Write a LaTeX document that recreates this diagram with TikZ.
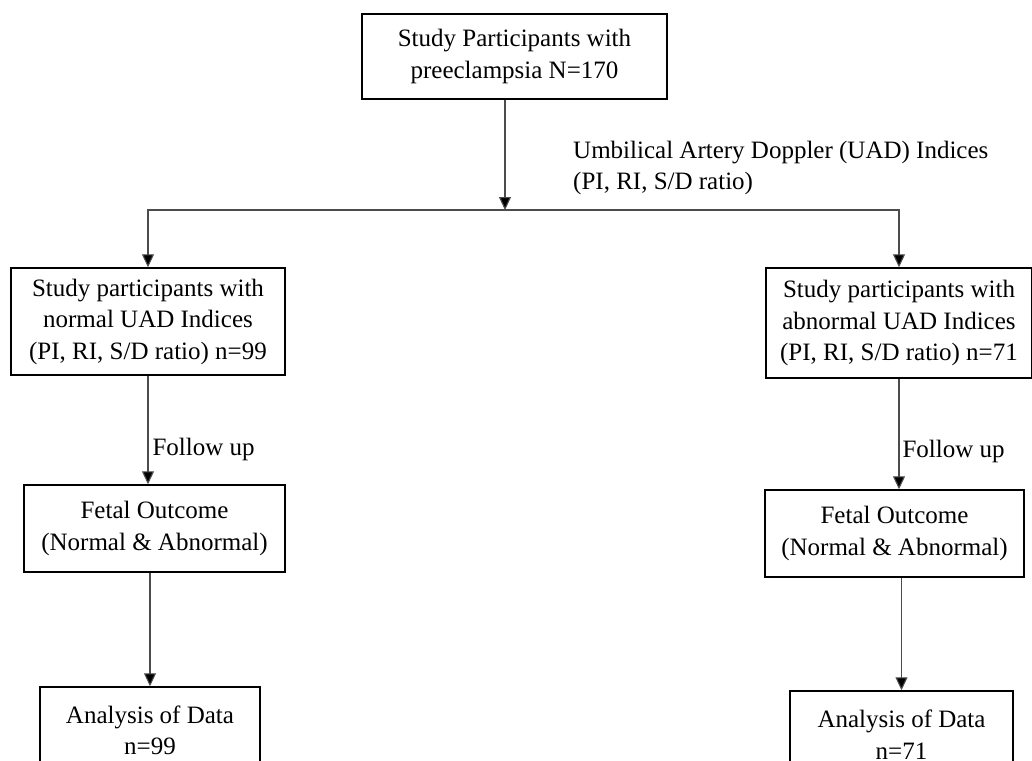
\documentclass[tikz,border=0pt]{standalone}
\usepackage{fontspec}
\setmainfont{Liberation Serif}
\usetikzlibrary{arrows.meta}

\begin{document}
\begin{tikzpicture}[x=1pt,y=-1pt,
    box/.style={draw=black,line width=1.5pt,align=center,inner sep=0pt,
                font=\fontsize{25}{31.5}\selectfont},
    arr/.style={draw=black!70,line width=1.1pt,-{Triangle[length=13pt,width=12pt,fill=black]}},
    lbl/.style={font=\fontsize{25}{31.5}\selectfont,inner sep=0pt}]
  \useasboundingbox (0,0) rectangle (1032,760);
  \clip (0,0) rectangle (1032,760);
  % Top of the Figure
  \node[box,minimum width=305pt,minimum height=85pt] (top) at (514.5,56.5)
        {Study Participants with\\preeclampsia N=170};
  \coordinate (split) at (505,210);
  \draw[arr] (top.south -| split) -- (split);
  \node[lbl,align=left,anchor=west] (uad) at (573,168)
        {Umbilical Artery Doppler (UAD) Indices\\(PI, RI, S/D ratio)};
  % Left-hand side part of the Figure
  \node[box,minimum width=274pt,minimum height=107pt] (normal) at (148,321.5)
        {Study participants with\\normal UAD Indices\\(PI, RI, S/D ratio) n=99};
  \node[box,minimum width=261pt,minimum height=87pt] (fetalL) at (154.5,528.5)
        {Fetal Outcome\\(Normal \& Abnormal)};
  \node[box,minimum width=220pt,minimum height=87pt] (dataL) at (150,730.5)
        {Analysis of Data\\n=99};
  \draw[arr] (split) -| (normal.north);
  \draw[arr] (normal.south) -- (normal.south |- fetalL.north)
        node[lbl,pos=0.68,right=4pt] (fupL) {Follow up};
  \draw[arr] (dataL.north |- fetalL.south) -- (dataL.north);
  % Right-hand side part of the Figure
  \node[box,minimum width=266pt,minimum height=110pt] (abnormal) at (899,323)
        {Study participants with\\abnormal UAD Indices\\(PI, RI, S/D ratio) n=71};
  \node[box,minimum width=259pt,minimum height=87pt] (fetalR) at (894.5,533.5)
        {Fetal Outcome\\(Normal \& Abnormal)};
  \node[box,minimum width=223pt,minimum height=87pt] (dataR) at (901.5,734.5)
        {Analysis of Data\\n=71};
  \draw[arr] (split) -| (abnormal.north);
  \draw[arr] (abnormal.south) -- (abnormal.south |- fetalR.north)
        node[lbl,pos=0.66,right=3pt] (fupR) {Follow up};
  \draw[arr] (dataR.north |- fetalR.south) -- (dataR.north);
\end{tikzpicture}
\end{document}
